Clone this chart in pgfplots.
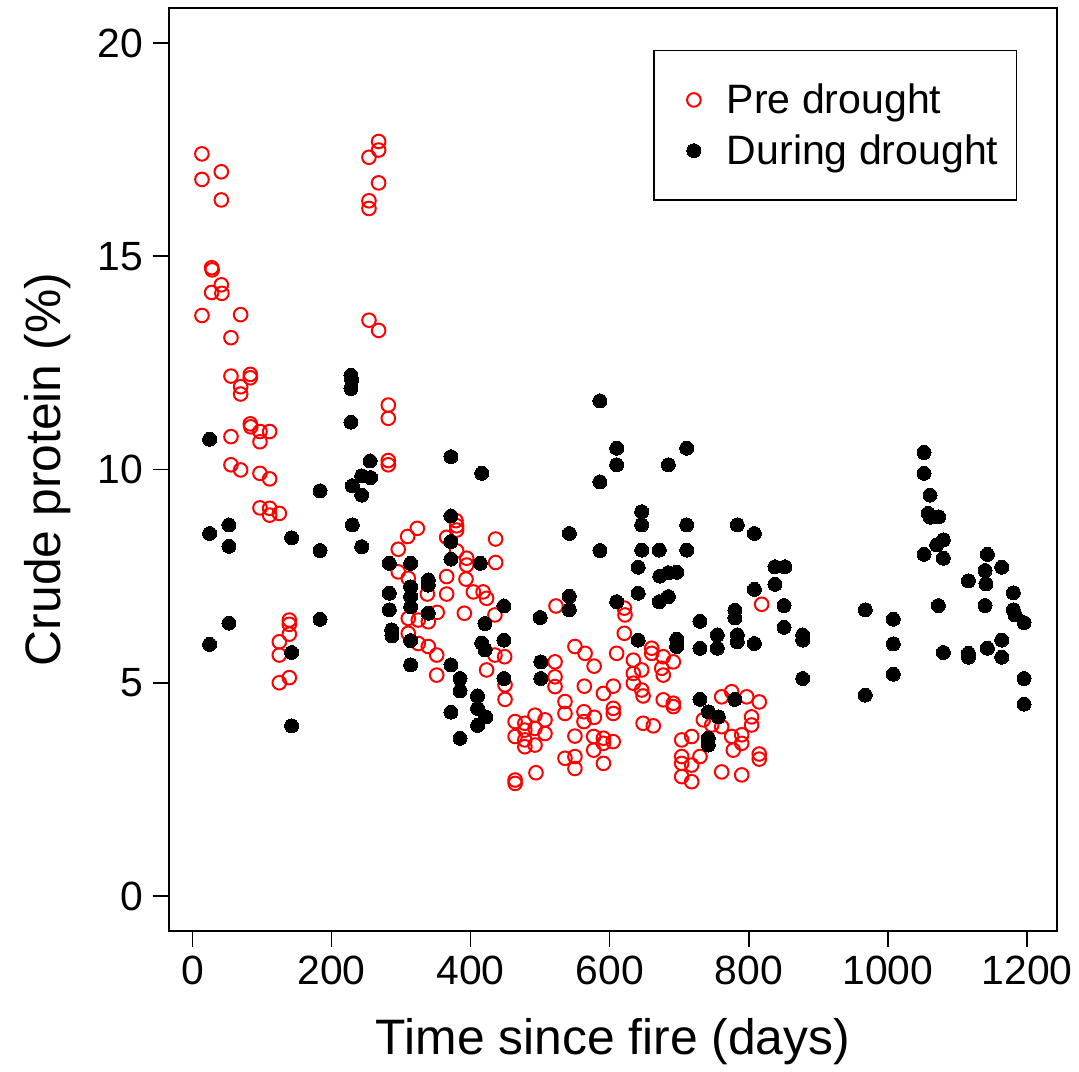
\documentclass[border=0pt]{standalone}
\usepackage{fontspec}
\setmainfont{Liberation Sans}
\usepackage{pgfplots}
\pgfplotsset{compat=1.18}
\definecolor{rred}{RGB}{255,0,0}
\begin{document}
\begin{tikzpicture}
\useasboundingbox (-84.5bp,-70.5bp) rectangle (455bp,465.5bp);
\begin{axis}[
 at={(0,0)}, anchor=south west,
 width=444bp, height=461.5bp, scale only axis,
 xmin=-33.6, xmax=1243.1, ymin=-0.82, ymax=20.82,
 xtick={0,200,400,600,800,1000,1200}, ytick={0,5,10,15,20},
 tick align=outside, tick pos=left,
 major tick length=8bp,
 axis line style={line width=0.75bp},
 every tick/.style={line width=0.75bp, black},
 /pgf/number format/assume math mode=true,
 /pgf/number format/1000 sep={},
 scaled ticks=false,
 tick label style={font=\fontsize{20.5}{20.5}\selectfont},
 xticklabel style={yshift=-1bp},
 yticklabel style={xshift=-1.5bp},
 xlabel={Time since fire (days)}, ylabel={Crude protein (\%)},
 label style={font=\fontsize{25}{25}\selectfont},
 xlabel style={at={(axis description cs:0.5,-0.12)}, anchor=center},
 ylabel style={at={(axis description cs:-0.137,0.5)}, anchor=center},
 legend style={at={(axis description cs:1,1)}, anchor=north east, xshift=-20bp, yshift=-21bp,
   font=\fontsize{20.6}{20.6}\selectfont, draw=black, line width=0.6bp,
   inner xsep=7bp, inner ysep=14.5bp, row sep=5bp, column sep=11bp, cells={anchor=west}},
 legend image code/.code={\path[draw=none,fill=none] (-13bp,0bp) -- (0bp,0bp); \draw[#1] plot coordinates {(0bp,0bp)};},
 clip=false,
]
\addplot[only marks, mark=o, mark size=3.4bp, draw=rred, mark options={line width=1bp, draw=rred}] coordinates {
(13.7,17.40) (41.6,16.98) (13.8,16.80) (41.6,16.32) (27.7,14.73) (28.5,14.68) (41.6,14.33) (27.7,14.15)
(42.5,14.13) (13.8,13.61) (69.4,13.63) (55.5,13.09) (55.5,12.19) (83.3,12.23) (83.3,12.15) (69.4,11.94)
(69.4,11.77) (83.3,11.07) (84,11.00) (97.2,10.89) (111.1,10.89) (55.5,10.77) (97.2,10.65) (55.5,10.11)
(69.4,9.99) (97.2,9.91) (111.1,9.78) (97.2,9.10) (111.1,9.09) (111.1,8.93) (125,8.97) (139.4,6.47)
(139.4,6.37) (139.4,6.14) (125,5.96) (125,5.65) (139.4,5.12) (125,5.00)
(267.8,17.69) (267.8,17.49) (253.9,17.32) (267.8,16.72) (253.9,16.30) (253.9,16.12) (253.9,13.50)
(267.8,13.26) (281.7,11.51) (281.7,11.20) (281.7,10.21) (281.7,10.11)
(379,8.80) (380,8.68) (380,8.58) (323.4,8.62) (309.5,8.43) (365.6,8.41) (296,8.13) (380,8.09)
(394.4,7.92) (394.4,7.76) (296,7.60) (310.4,7.45) (365.6,7.49) (393.4,7.43) (337.8,7.08) (365.6,7.08)
(404,7.13) (352,6.65) (391,6.63) (310.4,6.51) (324.8,6.47) (339.2,6.43) (310.4,6.16) (324.8,5.92)
(339.2,5.85) (351.3,5.65) (351.3,5.18)
(436,8.37) (436,7.82) (418,7.13) (423,6.98) (435,6.59) (435,5.65) (449,5.61) (423,5.30) (449.5,4.95) (449.5,4.61)
(522.8,6.80) (521.4,5.49) (521.4,5.14) (521.4,4.91) (550,5.85) (564.6,5.69) (577.6,5.39) (563.5,4.92)
(535.7,4.56) (535.7,4.28) (591,4.75) (605.2,4.92) (605.2,4.40) (605.2,4.28) (563,4.32) (563,4.09) (578,4.19)
(464,4.09) (478,4.05) (492.6,4.24) (507,4.13) (464,3.74) (478,3.89) (478,3.66) (492.6,3.93) (507,3.81)
(478,3.50) (492.6,3.54) (550,3.75) (577,3.74) (591,3.70) (605,3.62) (577,3.42) (591,3.58) (535.7,3.23)
(550,3.27) (550,2.99) (591,3.11) (494,2.89) (464,2.72) (464,2.64)
(610,5.69) (621,6.75) (622,6.59) (621,6.16)
(634,5.53) (660.4,5.81) (660.4,5.69) (677,5.61) (691.5,5.49) (674.8,5.34) (677,5.18) (634,5.22) (646,5.30)
(634,4.99) (646,4.83) (648,4.69) (677,4.60) (691.5,4.52) (691.5,4.44) (648,4.05) (662.7,3.99)
(761,4.67) (775.4,4.79) (797,4.67) (815,4.55) (734.6,4.13) (746.7,4.01) (804,4.20) (804,4.01) (761,3.97)
(775.4,3.74) (789.8,3.78) (789.8,3.58) (703.5,3.66) (717.9,3.74) (703.5,3.27) (703.5,3.11) (717.9,3.07)
(703.5,2.80) (717.9,2.68) (729.8,3.27) (761,2.91) (789.8,2.84) (815,3.33) (815,3.21) (777.7,3.42) (818.5,6.84)
};
\addlegendentry{Pre drought}
\addplot[only marks, mark=*, mark size=3.5bp, draw=black, fill=black, mark options={line width=0bp, draw=black, fill=black}] coordinates {
(24.8,10.71) (183.5,9.50) (52.6,8.70) (24.8,8.50) (52.6,8.20) (142.7,8.40) (183.5,8.10) (183.5,6.49)
(52.6,6.40) (24.8,5.90) (142.7,5.71) (142.7,3.99)
(228,12.21) (229,12.10) (228,11.90) (228,11.11) (255.4,10.20) (371.8,10.30) (416,9.91) (243.4,9.85)
(256.3,9.81) (230,9.62) (243.4,9.40) (230,8.70) (243.4,8.19) (371.8,8.91) (371.8,8.31) (371.8,7.90)
(283.2,7.80) (313.8,7.80) (414,7.80) (339.2,7.41) (339.2,7.29) (313.8,7.25) (283.2,7.10) (313.8,7.02)
(283.2,6.71) (313.8,6.78) (339.2,6.63) (286.6,6.24) (287,6.10) (313.8,5.99) (313.8,5.42) (371.8,5.42)
(384.8,5.10) (384.8,4.81) (410,4.69) (410,4.40) (422,4.20) (410,4.00) (371.8,4.31) (384.8,3.70)
(420.7,6.39) (416,5.93) (421,5.77) (448,6.80) (448,6.00) (448,5.10)
(586,11.61) (610,10.50) (610,10.11) (586,9.71) (542,8.50) (586,8.10) (542,7.03) (542,6.71) (610,6.90)
(500,6.53) (501,5.49) (501,5.10)
(710.7,10.50) (684.3,10.11) (646,9.01) (646,8.70) (710.7,8.70) (783.5,8.70) (808,8.50) (646,8.11)
(671.3,8.11) (710.7,8.11) (641,7.71) (672,7.50) (684.3,7.58) (696.3,7.59) (641,7.10) (671.3,6.90)
(684.3,7.02) (808,7.19) (780,6.70) (780,6.52) (729.8,6.44) (641,6.00) (696.3,6.02) (696.3,5.85)
(729.8,5.81) (754.7,6.12) (754.7,5.81) (783.5,6.12) (783.5,5.96) (808,5.92) (729.8,4.61) (741.8,4.32)
(756.2,4.20) (780,4.61) (741.8,3.70) (741.8,3.54)
(837.6,7.72) (852,7.72) (837.6,7.31) (850.6,6.81) (850.6,6.30) (877.5,6.12) (877.5,6.00) (877.5,5.10)
(967.5,6.71) (967.5,4.71) (1007.7,6.49) (1007.7,5.91) (1007.7,5.20)
(1051.9,10.40) (1051.9,9.91) (1060.5,9.40) (1058,8.97) (1061,8.88) (1073,8.89) (1079.7,8.35) (1070,8.23)
(1079.7,7.92) (1051.9,8.01) (1143,8.01) (1163.6,7.71) (1139.6,7.63) (1115.7,7.39) (1141,7.32) (1180.3,7.11)
(1180.3,6.71) (1182.8,6.59) (1195.7,6.41) (1072.5,6.81) (1139.6,6.81) (1163.6,6.00) (1143,5.81) (1163.6,5.60)
(1079.7,5.71) (1115.7,5.69) (1115.7,5.60) (1195.7,5.10) (1195.7,4.50)
};
\addlegendentry{During drought}
\end{axis}
\end{tikzpicture}
\end{document}
